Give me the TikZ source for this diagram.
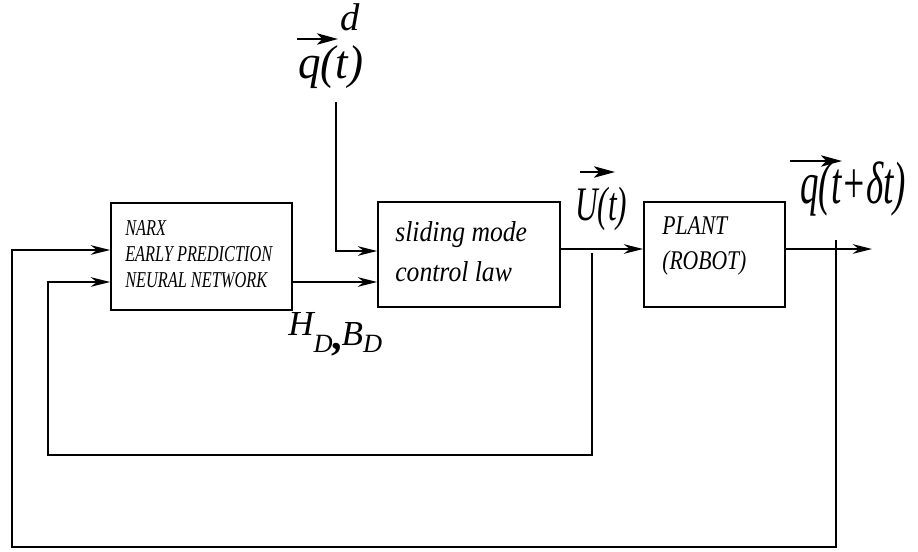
\documentclass[tikz,border=0pt]{standalone}
\usepackage{fontspec}
\setmainfont{Liberation Serif}
\usetikzlibrary{arrows.meta,calc}

\tikzset{
  blk/.style={draw, line width=1.1pt, inner sep=0pt, minimum height=2.1cm},
  sig/.style={line width=0.8pt, -{Stealth[length=11pt,width=5.5pt,inset=3.5pt]}},
  fb/.style={line width=1.2pt},
  vecarr/.style={line width=1.1pt, -{Stealth[length=12pt,width=6.5pt,inset=3pt]}},
  boxtxt/.style={inner sep=0pt, align=left, anchor=west},
  lbl/.style={inner sep=0pt, anchor=base west}
}

\begin{document}
\begin{tikzpicture}[x=0.02cm, y=-0.02cm]
    \useasboundingbox (0,0) rectangle (918,551);

    % Blocks
    \node[blk, minimum width=3.62cm, minimum height=2.14cm] (narx) at (201.5,256.5) {};
    \node[blk, minimum width=3.64cm] (slc) at (469,254.5) {};
    \node[blk, minimum width=2.82cm] (plant) at (714.5,254.5) {};

    % Block texts
    \node[boxtxt, xscale=0.72, font=\itshape\fontsize{12.9}{14.7}\selectfont] (narxtxt) at (125,254) {NARX\\EARLY PREDICTION\\NEURAL NETWORK};
    \node[boxtxt, xscale=0.89, font=\itshape\fontsize{16.4}{22.7}\selectfont] (slctxt) at (395,252) {sliding mode\\control law};
    \node[boxtxt, xscale=0.8, font=\itshape\fontsize{15.4}{19.8}\selectfont] (planttxt) at (662,246) {PLANT\\(ROBOT)};

    % Signal labels
    \node[lbl, xscale=0.95, font=\itshape\fontsize{27}{27}\selectfont] (qd) at (298,78) {q(t)};
    \node[lbl, font=\itshape\fontsize{22}{22}\selectfont] (dsup) at (340,31) {d};
    \node[lbl, xscale=0.65, font=\itshape\fontsize{27.4}{28}\selectfont] (uvec) at (575,220) {U(t)};
    \node[lbl, xscale=0.62, font=\itshape\fontsize{34}{35}\selectfont] (qout) at (800,203) {q(t+δt)};
    \node[lbl, font=\itshape\fontsize{20}{20}\selectfont] (hb) at (288,335)
        {H\raisebox{-10.2pt}{\fontsize{15}{15}\selectfont D}\kern-1pt\raisebox{-8pt}{\bfseries\upshape\fontsize{24}{24}\selectfont ,}\raisebox{-5.7pt}{B}\raisebox{-10.2pt}{\fontsize{15}{15}\selectfont D}};

    % Vector arrows
    \draw[vecarr] ($(qd.base west)+(-1,-39)$) -- ++(41,0);
    \draw[vecarr] ($(uvec.base west)+(5,-48)$) -- ++(35,0);
    \draw[vecarr] ($(qout.base west)+(-10,-42)$) -- ++(52,0);

    % Connection points
    \coordinate (qdtop) at (336,102);
    \coordinate (slcin) at ($(slc.west)+(0,-3.5)$);
    \coordinate (hbin) at ($(slc.west)+(0,27.5)$);
    \coordinate (uout) at ($(slc.east)+(0,-5.5)$);
    \coordinate (utap) at (592,253);
    \coordinate (qtap) at (836,240);
    \coordinate (qend) at (872,249);
    \coordinate (narxin1) at ($(narx.west)+(0,-6.5)$);
    \coordinate (narxin2) at ($(narx.west)+(0,25.5)$);

    % Forward path
    \draw[sig] (qdtop) |- (slcin);
    \draw[sig] (narx.east |- hbin) -- (hbin);
    \draw[sig] (uout) -- (plant.west |- uout);
    \draw[sig] (plant.east |- qend) -- (qend);

    % Feedback loops
    \draw[sig, fb] (utap) -- ++(0,202) -- ++(-544,0) |- (narxin2);
    \draw[sig, fb] (qtap) -- ++(0,307) -- ++(-824,0) |- (narxin1);
\end{tikzpicture}
\end{document}
